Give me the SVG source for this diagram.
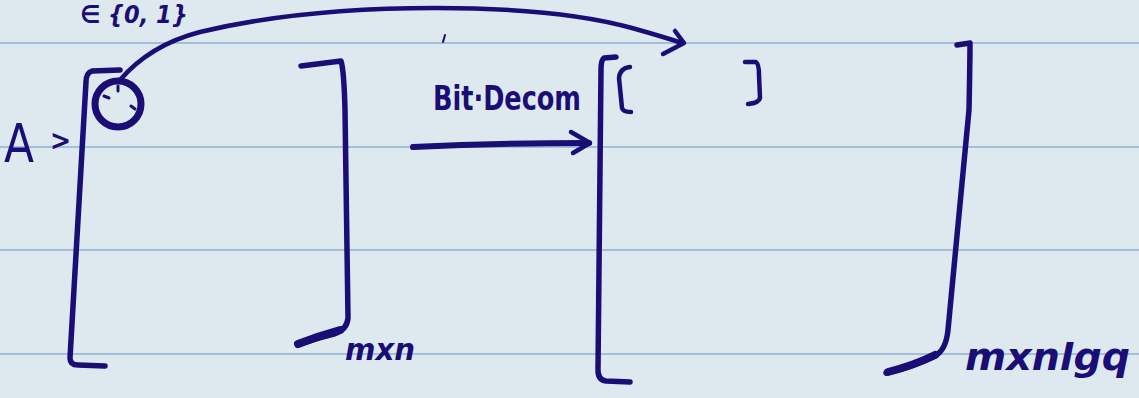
<svg xmlns="http://www.w3.org/2000/svg" width="1139" height="398" viewBox="0 0 1139 398">
<style>
.ink{fill:none;stroke:#1a0e76;stroke-linecap:round;stroke-linejoin:round}
.t{fill:#1a0e76;font-family:"DejaVu Sans Condensed","DejaVu Sans",sans-serif}
.rule{stroke:#8db0d2;stroke-width:1.6}
</style>
<rect width="1139" height="398" fill="#dde9ef"/>
<g id="rules">
<line class="rule" x1="0" y1="43" x2="1139" y2="43"/>
<line class="rule" x1="0" y1="147" x2="1139" y2="147"/>
<line class="rule" x1="0" y1="250" x2="1139" y2="250"/>
<line class="rule" x1="0" y1="354" x2="1139" y2="354"/>
</g>
<g id="labels">
<text class="t" x="80" y="23" font-size="25" font-weight="bold" font-style="italic">∈ {0, 1}</text>
<text class="t" x="4" y="162" font-size="54" textLength="30" lengthAdjust="spacingAndGlyphs">A</text>
<text class="t" x="50" y="150" font-size="28" font-weight="bold">&gt;</text>
<text class="t" x="433" y="110" font-size="34" font-weight="bold" textLength="148" lengthAdjust="spacingAndGlyphs">Bit·Decom</text>
<text class="t" x="345" y="360" font-size="30" font-weight="bold" font-style="italic" textLength="70" lengthAdjust="spacingAndGlyphs">mxn</text>
<text class="t" x="965" y="370" font-size="38" font-weight="bold" font-style="italic" textLength="165" lengthAdjust="spacingAndGlyphs">mxnlgq</text>
</g>
<g id="matrixA">
<path class="ink" stroke-width="5.5" d="M120 70 L92 71 Q86 73 86 82 L70 358 Q70 365 78 365 L105 366"/>
<path class="ink" stroke-width="5.5" d="M301 66 L341 61 Q344 70 345 110 L348 318 Q347 330 334 334 Q310 340 298 345"/>
<path class="ink" stroke-width="8" d="M298 344 Q318 336 340 330"/>
<ellipse id="entry" class="ink" stroke-width="7" cx="118" cy="104" rx="23" ry="23"/>
<path class="ink" stroke-width="3" d="M118 86 l0 5 M104 96 l5 2 M131 106 l4 3"/>
</g>
<g id="matrixB">
<path class="ink" stroke-width="5.5" d="M616 57 L604 58 Q601 60 601 70 L598 370 Q598 380 606 381 L630 382"/>
<path class="ink" stroke-width="4.5" d="M630 67 Q620 68 619 78 L622 108 Q623 112 631 112"/>
<path class="ink" stroke-width="4.5" d="M745 62 L756 62 Q759 64 759 75 L760 98 Q759 103 748 104"/>
<path class="ink" stroke-width="5.5" d="M957 45 L970 43 Q970 60 969 110 L948 330 Q946 350 935 356 Q910 368 886 373"/>
<path class="ink" stroke-width="8" d="M888 372 Q915 365 935 355"/>
</g>
<g id="connectors">
<path class="ink" stroke-width="4.5" d="M120 80 Q150 45 200 32 Q300 8 436 8 Q560 8 632 28 Q664 37 682 43"/>
<path class="ink" stroke-width="4.5" d="M675 31 L684 43 L663 54"/>
<path class="ink" stroke-width="6" d="M413 147 Q500 143 589 143"/>
<path class="ink" stroke-width="4.5" d="M571 132 L590 143 L573 153"/>
<path class="ink" stroke-width="2" d="M445 35 L443 42"/>
</g>
</svg>
